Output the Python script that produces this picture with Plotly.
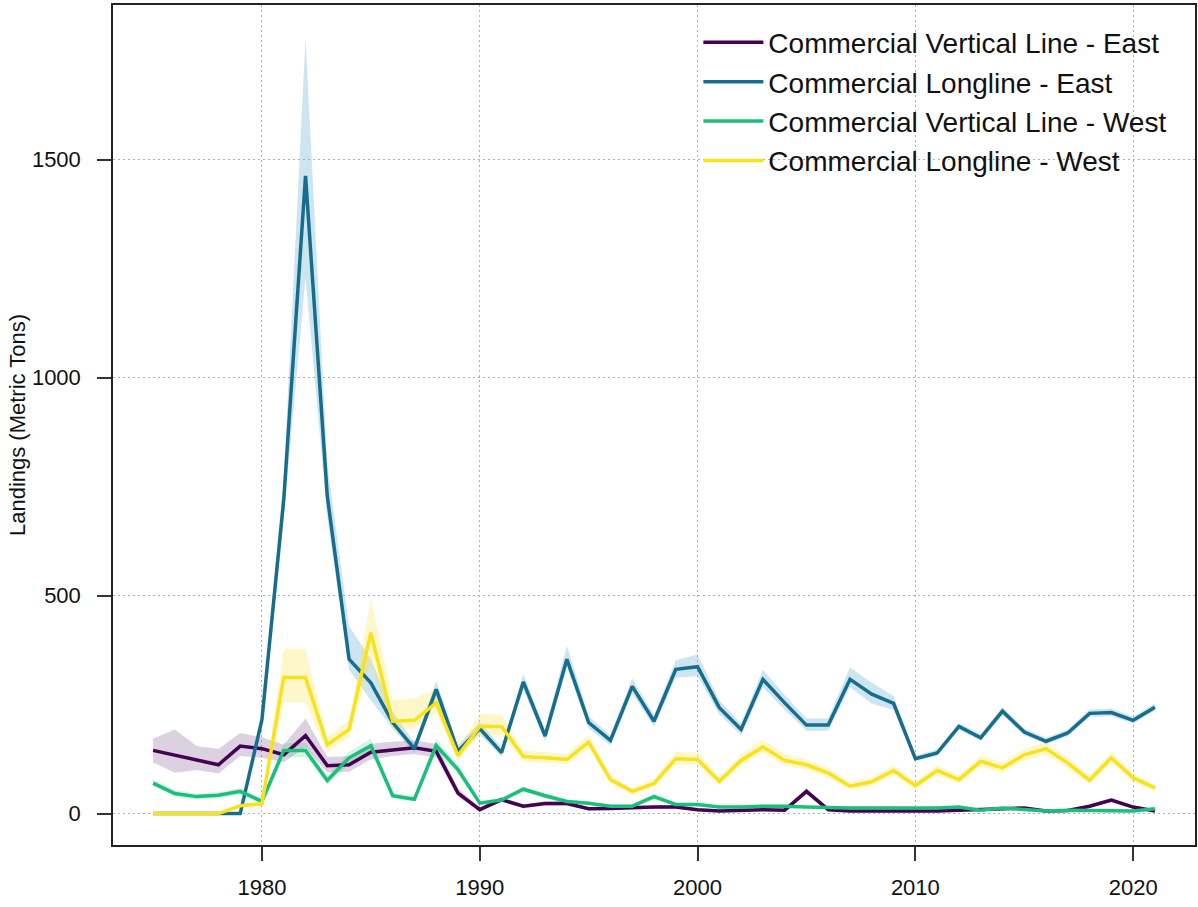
import plotly.graph_objects as go

years = list(range(1975, 2022))

names = ["Commercial Vertical Line - East", "Commercial Longline - East",
         "Commercial Vertical Line - West", "Commercial Longline - West"]

vl_east = [145, 134, 123, 112, 155, 149, 135, 179, 110, 112, 141, 147, 151, 143, 47, 9,
           32, 17, 23, 23, 11, 12, 14, 15, 15, 9, 6, 8, 9, 8, 51, 9, 6, 6, 6, 4,
           6, 8, 9, 11, 13, 6, 7, 17, 31, 15, 6]
vl_east_lo = [117, 94, 100, 92, 132, 128, 118, 152, 95, 96, 125, 132, 137, 128, 38, 5,
              27, 13, 18, 18, 8, 9, 10, 11, 11, 6, 4, 5, 6, 5, 44, 6, 4, 4, 4, 2,
              4, 5, 6, 8, 9, 4, 5, 13, 26, 11, 4]
vl_east_hi = [172, 193, 155, 148, 185, 175, 158, 218, 130, 132, 160, 165, 168, 160, 58, 14,
              38, 21, 28, 28, 14, 15, 18, 19, 19, 12, 8, 11, 12, 11, 58, 12, 8, 8, 8, 6,
              8, 11, 12, 14, 17, 8, 9, 21, 36, 19, 8]

ll_east = [0, 0, 0, 0, 0, 216, 720, 1463, 728, 354, 300, 209, 149, 285, 143, 195,
           140, 302, 178, 354, 209, 168, 292, 212, 331, 337, 243, 193, 308, 254, 203, 203, 308, 274, 253, 126,
           139, 200, 174, 235, 187, 166, 185, 230, 232, 214, 244]
ll_east_lo = [0, 0, 0, 0, 0, 195, 680, 1230, 680, 330, 260, 195, 140, 265, 133, 182,
              130, 285, 166, 335, 196, 156, 275, 200, 312, 315, 228, 180, 290, 238, 190, 190, 290, 252, 238, 120,
              132, 192, 167, 226, 180, 159, 178, 222, 224, 207, 236]
ll_east_hi = [0, 0, 0, 0, 0, 235, 770, 1778, 800, 430, 355, 235, 162, 305, 156, 210,
              152, 320, 192, 385, 224, 180, 310, 226, 352, 365, 260, 206, 330, 272, 218, 218, 335, 300, 270, 133,
              147, 208, 182, 244, 195, 174, 193, 239, 241, 222, 253]

vl_west = [70, 46, 39, 42, 51, 28, 145, 145, 76, 128, 156, 41, 33, 156, 101, 24,
           31, 56, 41, 28, 24, 17, 17, 39, 21, 21, 15, 15, 17, 17, 15, 13, 13, 13, 13, 11,
           13, 15, 8, 13, 9, 6, 8, 8, 8, 6, 11]
vl_west_lo = [62, 38, 32, 35, 43, 22, 130, 130, 66, 114, 140, 34, 27, 140, 90, 19,
              26, 49, 35, 23, 20, 13, 13, 33, 17, 17, 12, 12, 13, 13, 12, 10, 10, 10, 10, 8,
              10, 12, 6, 10, 7, 4, 6, 6, 6, 4, 8]
vl_west_hi = [78, 54, 46, 49, 59, 34, 162, 162, 86, 142, 172, 48, 39, 172, 112, 29,
              36, 63, 47, 33, 28, 21, 21, 45, 25, 25, 18, 18, 21, 21, 18, 16, 16, 16, 16, 14,
              16, 18, 10, 16, 11, 8, 10, 10, 10, 8, 14]

ll_west = [0, 0, 0, 0, 18, 23, 312, 312, 158, 193, 415, 212, 214, 254, 133, 200,
           200, 131, 128, 124, 164, 78, 51, 69, 126, 124, 74, 122, 153, 122, 112, 93, 63, 73, 99, 64,
           99, 78, 120, 105, 135, 149, 116, 77, 128, 82, 59]
ll_west_lo = [0, 0, 0, 0, 14, 18, 255, 255, 140, 175, 345, 190, 195, 230, 120, 180,
              180, 120, 117, 113, 150, 69, 44, 60, 112, 112, 65, 110, 140, 110, 101, 83, 55, 64, 88, 56,
              88, 69, 108, 94, 122, 135, 104, 68, 115, 73, 52]
ll_west_hi = [0, 0, 0, 0, 22, 28, 378, 378, 175, 215, 495, 260, 265, 285, 150, 228,
              228, 145, 141, 137, 180, 88, 59, 79, 142, 140, 84, 136, 170, 136, 124, 104, 72, 83, 111, 73,
              111, 88, 133, 117, 149, 164, 129, 87, 142, 92, 67]

y_ticks = [0, 500, 1000, 1500]
x_ticks = [1980, 1990, 2000, 2010, 2020]

series = [
    (vl_east, vl_east_lo, vl_east_hi, "#440154", "rgba(110,70,130,0.25)"),
    (ll_east, ll_east_lo, ll_east_hi, "#176E8C", "rgba(100,170,210,0.32)"),
    (vl_west, vl_west_lo, vl_west_hi, "#1DBE7C", "rgba(60,200,140,0.22)"),
    (ll_west, ll_west_lo, ll_west_hi, "#F8E21E", "rgba(250,230,90,0.32)"),
]

FONT = "Liberation Sans, Arial"

fig = go.Figure()

for vals, lo, hi, col, band in series:
    fig.add_trace(go.Scatter(
        x=years + years[::-1], y=hi + lo[::-1],
        fill="toself", fillcolor=band, line=dict(width=0),
        mode="lines", showlegend=False, hoverinfo="skip"))

for i, (vals, lo, hi, col, band) in enumerate(series):
    fig.add_trace(go.Scatter(
        x=years, y=vals, mode="lines", name=names[i],
        line=dict(color=col, width=3.5)))

axis_common = dict(
    showline=True, linecolor="#222222", linewidth=1.5, mirror=True,
    ticks="outside", ticklen=14, tickcolor="#333333", tickwidth=1.5,
    showgrid=True, gridcolor="#b0b0b0", griddash="2px,3px", gridwidth=1,
    zeroline=False, automargin=False,
    tickfont=dict(family=FONT, size=22, color="#111111"),
)

fig.update_xaxes(range=[1973.16, 2022.84], tickvals=x_ticks,
                 ticklabelstandoff=8, **axis_common)
fig.update_yaxes(range=[-72, 1855], tickvals=y_ticks, ticklabelstandoff=12,
                 title=dict(text="Landings (Metric Tons)",
                            font=dict(family=FONT, size=22, color="#111111"),
                            standoff=0),
                 **axis_common)

fig.update_layout(
    width=1198, height=907,
    margin=dict(l=113, r=3, t=5, b=62),
    plot_bgcolor="white", paper_bgcolor="white",
    font=dict(family=FONT),
    legend=dict(x=0.541, y=0.985, xanchor="left", yanchor="top",
                bgcolor="rgba(0,0,0,0)", borderwidth=0, itemwidth=60,
                font=dict(family=FONT, size=28, color="#111111")),
)

fig.write_html("out.html", config={"displayModeBar": False},
               post_script="document.body.style.margin='0';")
